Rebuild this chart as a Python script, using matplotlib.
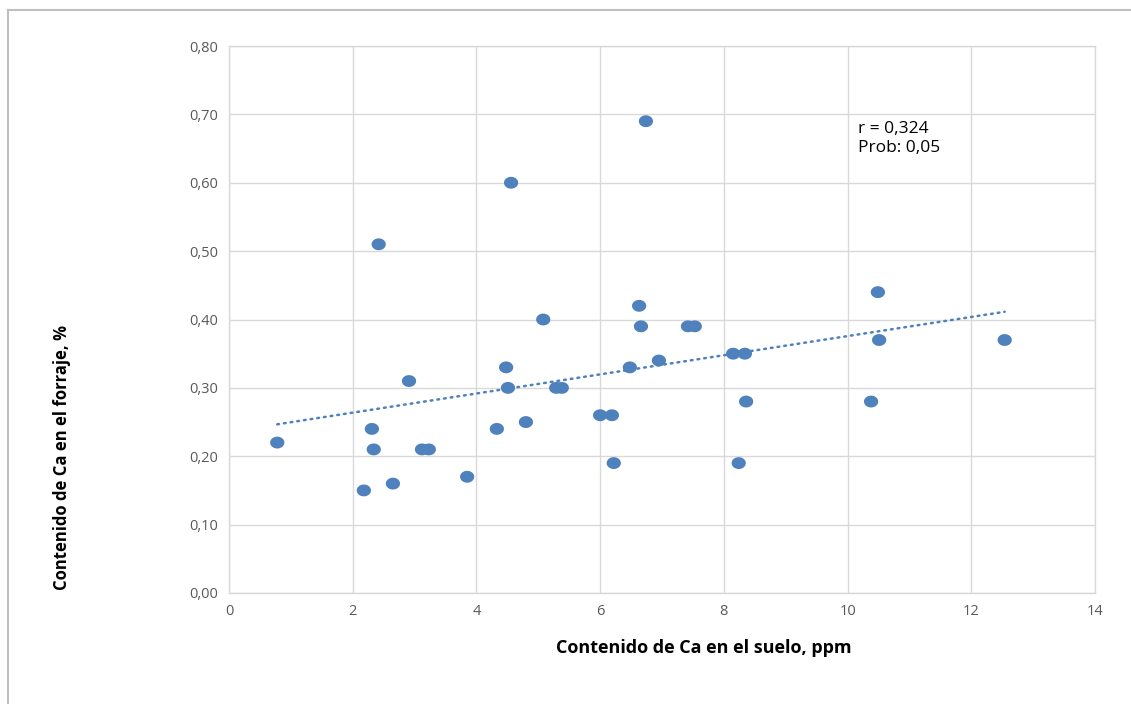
import numpy as np
import matplotlib
matplotlib.use("Agg")
import matplotlib.pyplot as plt
from matplotlib.lines import Line2D
from matplotlib.path import Path
from matplotlib.ticker import FuncFormatter

# Data: Ca in soil (ppm) vs Ca in forage (%)
suelo = [0.78, 2.18, 2.31, 2.34, 2.42, 2.65, 2.91, 3.12, 3.23, 3.85,
         4.33, 4.48, 4.51, 4.56, 4.80, 5.08, 5.29, 5.38, 6.00, 6.19,
         6.22, 6.48, 6.63, 6.66, 6.74, 6.95, 7.42, 7.53, 8.15, 8.24,
         8.34, 8.36, 10.38, 10.49, 10.51, 12.54]
forraje = [0.22, 0.15, 0.24, 0.21, 0.51, 0.16, 0.31, 0.21, 0.21, 0.17,
           0.24, 0.33, 0.30, 0.60, 0.25, 0.40, 0.30, 0.30, 0.26, 0.26,
           0.19, 0.33, 0.42, 0.39, 0.69, 0.34, 0.39, 0.39, 0.35, 0.19,
           0.35, 0.28, 0.28, 0.44, 0.37, 0.37]
x_ticks = [0, 2, 4, 6, 8, 10, 12, 14]
y_ticks = [0.0, 0.1, 0.2, 0.3, 0.4, 0.5, 0.6, 0.7, 0.8]
x_label = "Contenido de Ca en el suelo, ppm"
y_label = "Contenido de Ca en el forraje, %"
note = "r = 0,324\nProb: 0,05"

plt.rcParams['font.family'] = ['Open Sans', 'DejaVu Sans']

W, H = 1131, 704
fig = plt.figure(figsize=(W / 100, H / 100), dpi=100)
ax = fig.add_axes([229 / W, 1 - 593 / H, (1095 - 229) / W, (593 - 46) / H])

blue = '#4F81BD'
grid = '#D9D9D9'

# slightly wide elliptical marker
t = np.linspace(0, 2 * np.pi, 60)
ellipse = Path(np.column_stack([1.2 * np.cos(t), np.sin(t)]), closed=True)

xs = np.array(suelo)
ys = np.array(forraje)
ax.scatter(xs, ys, s=105, color=blue, marker=ellipse, zorder=3,
           edgecolors='none')
slope, intercept = np.polyfit(xs, ys, 1)
xt = np.array([xs.min(), xs.max()])
ax.plot(xt, slope * xt + intercept, color=blue, lw=1.8,
        linestyle=(0, (0.7, 2.0)), zorder=2, dash_capstyle='round')

ax.set_xlim(0, 14)
ax.set_ylim(0, 0.8)
ax.set_xticks(x_ticks)
ax.set_yticks(y_ticks)
ax.yaxis.set_major_formatter(FuncFormatter(lambda v, p: f"{v:.2f}".replace('.', ',')))
ax.xaxis.set_major_formatter(FuncFormatter(lambda v, p: f"{v:g}"))
ax.grid(True, color=grid, lw=1.0, zorder=0)
ax.set_axisbelow(True)
for side in ['top', 'right', 'left', 'bottom']:
    ax.spines[side].set_color(grid)
    ax.spines[side].set_linewidth(1.0)
ax.tick_params(length=0, labelsize=10.5, labelcolor='#595959', pad=8)

fig.text(704 / W, 1 - 648 / H, x_label, ha='center', va='center',
         fontsize=13, fontweight='bold', color='black')
fig.text(62 / W, 1 - 457 / H, y_label, ha='center', va='center',
         rotation=90, fontsize=12, fontweight='bold', color='black')
ax.text(10.17, 0.69, note, ha='left', va='top', fontsize=12.5,
        color='black', linespacing=1.25)

# outer chart border (top and left visible)
fig.add_artist(Line2D([8 / W, 8 / W], [0, 1 - 10 / H], transform=fig.transFigure,
                      color='#BFBFBF', lw=1.5))
fig.add_artist(Line2D([8 / W, 1], [1 - 10 / H, 1 - 10 / H], transform=fig.transFigure,
                      color='#BFBFBF', lw=1.5))

fig.savefig('out.png', dpi=100)
